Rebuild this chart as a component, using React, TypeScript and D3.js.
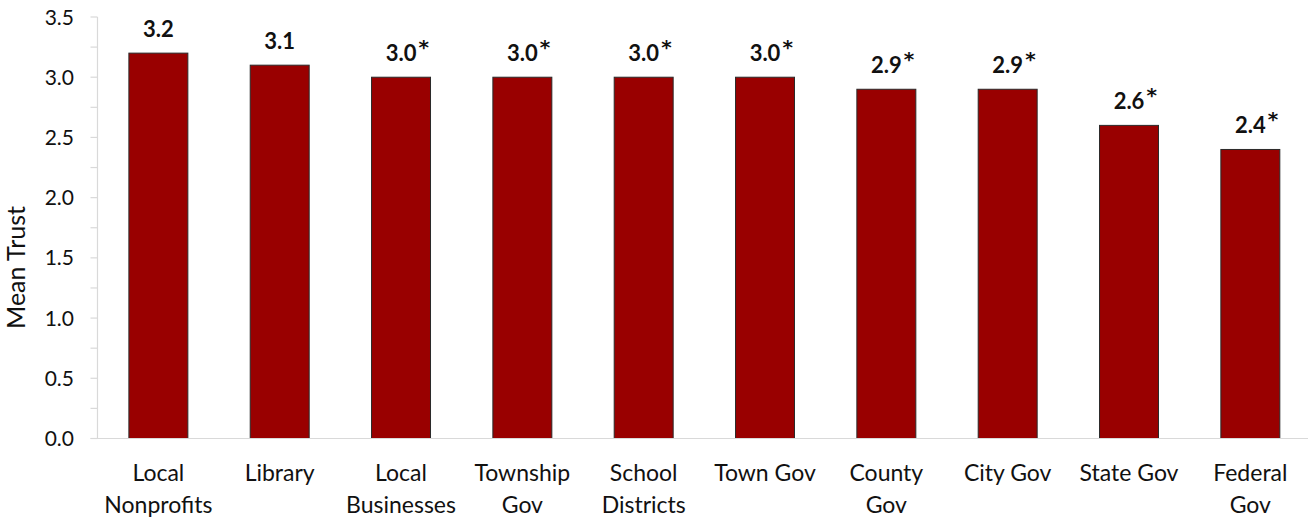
import React from "react";
import * as d3 from "d3";

// Mean trust ratings by institution
const categories: string[][] = [
  ["Local", "Nonprofits"],
  ["Library"],
  ["Local", "Businesses"],
  ["Township", "Gov"],
  ["School", "Districts"],
  ["Town Gov"],
  ["County", "Gov"],
  ["City Gov"],
  ["State Gov"],
  ["Federal", "Gov"],
];
const meanTrust: number[] = [3.2, 3.1, 3.0, 3.0, 3.0, 3.0, 2.9, 2.9, 2.6, 2.4];
// significance markers shown next to the value labels
const significant: boolean[] = [false, false, true, true, true, true, true, true, true, true];
const yTicks: number[] = [0, 0.5, 1, 1.5, 2, 2.5, 3, 3.5];
const yMinorTicks: number[] = d3.range(0, 3.51, 0.25);

const W = 1308;
const H = 519;
const FONT = "Lato, 'Open Sans', sans-serif";

export default function App() {
  const keys = categories.map((c) => c.join(" "));
  const x = d3
    .scaleBand<string>()
    .domain(keys)
    .range([97.7, 1311])
    .paddingInner(0.514)
    .paddingOuter(0.257);
  const y = d3.scaleLinear().domain([0, 3.5]).range([438.5, 17]);
  const axisX = 97.5;

  return (
    <svg
      width={W}
      height={H}
      style={{ position: "absolute", left: 0, top: 0, background: "#fff" }}
      fontFamily={FONT}
    >
      {/* y axis line and tick marks */}
      <line x1={axisX} x2={axisX} y1={y(3.5)} y2={y(0)} stroke="#d9d9d9" strokeWidth={1.2} />
      {yMinorTicks.map((t) => (
        <line key={"t" + t} x1={axisX - 7} x2={axisX} y1={y(t)} y2={y(t)} stroke="#d9d9d9" strokeWidth={1.2} />
      ))}
      {yTicks.map((t) => (
        <text
          key={"l" + t}
          x={74}
          y={y(t)}
          dy="0.36em"
          textAnchor="end"
          fontSize={21}
          fill="#111"
        >
          {d3.format(".1f")(t)}
        </text>
      ))}
      <text
        transform={`translate(25,267.5) rotate(-90)`}
        textAnchor="middle"
        fontSize={25}
        fill="#111"
      >
        Mean Trust
      </text>

      {/* bars */}
      {meanTrust.map((v, i) => (
        <rect
          key={keys[i]}
          x={x(keys[i])!}
          y={y(v)}
          width={x.bandwidth()}
          height={y(0) - y(v)}
          fill="#990000"
          stroke="#2a2a2a"
          strokeWidth={1}
        />
      ))}

      {/* baseline */}
      <line x1={axisX - 7} x2={W} y1={y(0)} y2={y(0)} stroke="#d9d9d9" strokeWidth={1.2} />

      {/* value labels with superscript significance markers */}
      {meanTrust.map((v, i) => {
        const cx = x(keys[i])! + x.bandwidth() / 2;
        const by = y(v) - 16;
        return (
          <g key={"v" + i}>
            <text x={cx} y={by} textAnchor="middle" fontSize={22} fontWeight={700} fill="#111">
              {d3.format(".1f")(v)}
            </text>
            {significant[i] && (
              <text
                x={cx + 17.5}
                y={by - 7}
                fontSize={20}
                fontWeight={700}
                fontFamily="'DejaVu Sans', sans-serif"
                fill="#111"
              >
                *
              </text>
            )}
          </g>
        );
      })}

      {/* category labels */}
      {categories.map((lines, i) => {
        const cx = x(keys[i])! + x.bandwidth() / 2;
        return (
          <text key={"c" + i} textAnchor="middle" fontSize={23} fill="#111">
            {lines.map((ln, j) => (
              <tspan key={j} x={cx} y={480.7 + j * 32.5}>
                {ln}
              </tspan>
            ))}
          </text>
        );
      })}
    </svg>
  );
}
